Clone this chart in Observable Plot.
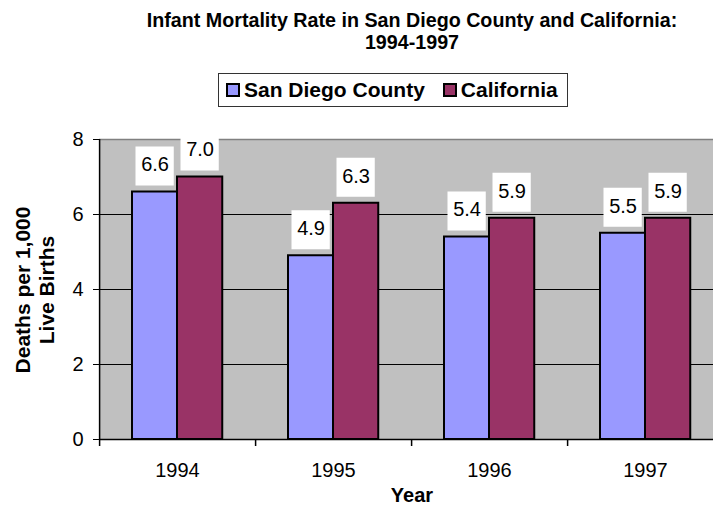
<!DOCTYPE html>
<html>
<head>
<meta charset="utf-8">
<script src="https://cdn.jsdelivr.net/npm/d3@7"></script>
<script src="https://cdn.jsdelivr.net/npm/@observablehq/plot@0.6"></script>
<style>
  html, body { margin: 0; padding: 0; background: #fff; }
  #wrap { position: relative; width: 713px; height: 508px; overflow: hidden; font-family: "Liberation Sans", Arial, sans-serif; }
  #chart { position: absolute; left: 0; top: 0; width: 724px; height: 508px; }
  #chart svg { max-width: none !important; width: 724px !important; height: 508px !important; }
  .title { position: absolute; left: 112px; width: 600px; top: 9px; text-align: center; font-weight: bold; font-size: 19.7px; line-height: 22px; color: #000; white-space: nowrap; }
  .legend { position: absolute; left: 218px; top: 73px; width: 350px; height: 34px; box-sizing: border-box; border: 1px solid #333; display: flex; align-items: center; font-weight: bold; font-size: 21px; white-space: nowrap; }
  .sw { display: inline-block; width: 14px; height: 14px; border: 2px solid #000; box-sizing: border-box; margin-right: 4px; }
  .ylab { position: absolute; left: 35px; top: 290px; width: 300px; text-align: center; font-weight: bold; font-size: 21px; line-height: 24px; transform: translate(-50%, -50%) rotate(-90deg); white-space: nowrap; }
  .xlab { position: absolute; left: 312px; width: 200px; top: 485px; line-height: 20px; text-align: center; font-weight: bold; font-size: 20px; }
</style>
</head>
<body>
<div id="wrap">
  <div id="chart"></div>
  <div class="title">Infant Mortality Rate in San Diego County and California:<br>1994-1997</div>
  <div class="legend" id="legend"></div>
  <div class="ylab">Deaths per 1,000<br>Live Births</div>
  <div class="xlab">Year</div>
</div>
<script>
const years = ["1994", "1995", "1996", "1997"];
const sanDiego = [6.6, 4.9, 5.4, 5.5];
const california = [7.0, 6.3, 5.9, 5.9];
const seriesNames = ["San Diego County", "California"];
const seriesColors = ["#9999ff", "#993366"];
const yTicks = [0, 2, 4, 6, 8];

const sd = years.map((year, i) => ({year, value: sanDiego[i]}));
const ca = years.map((year, i) => ({year, value: california[i]}));

const plot = Plot.plot({
  width: 724,
  height: 508,
  marginLeft: 99,
  marginRight: 1,
  marginTop: 139,
  marginBottom: 69,
  style: {fontFamily: "Liberation Sans, Arial, sans-serif", fontSize: "20px", color: "#000", background: "transparent"},
  x: {domain: years, padding: 0},
  y: {domain: [0, 8]},
  marks: [
    Plot.frame({fill: "#c0c0c0"}),
    Plot.ruleY([2, 4, 6], {stroke: "#000", strokeWidth: 1}),
    Plot.ruleY([8], {stroke: "#808080", strokeWidth: 1.5}),
    Plot.barY(sd, {x: "year", y: "value", fill: seriesColors[0], stroke: "#000", strokeWidth: 2, insetLeft: 33, insetRight: 77.75}),
    Plot.barY(ca, {x: "year", y: "value", fill: seriesColors[1], stroke: "#000", strokeWidth: 2, insetLeft: 78, insetRight: 32.75}),
    Plot.barY(sd, {x: "year", y1: "value", y2: "value", fill: "#fff", insetTop: -45, insetBottom: 6, insetLeft: 36.5, insetRight: 81.25}),
    Plot.barY(ca, {x: "year", y1: "value", y2: "value", fill: "#fff", insetTop: -45, insetBottom: 6, insetLeft: 81.5, insetRight: 36.25}),
    Plot.text(sd, {x: "year", y: "value", text: d => d.value.toFixed(1), dx: -22.4, dy: -27, fontSize: 20, fill: "#000", lineAnchor: "middle"}),
    Plot.text(ca, {x: "year", y: "value", text: d => d.value.toFixed(1), dx: 22.6, dy: -27, fontSize: 20, fill: "#000", lineAnchor: "middle"}),
    Plot.ruleX([years[0]], {dx: -77.9, stroke: "#000", strokeWidth: 1.5}),
    Plot.ruleX(years, {dx: -77.9, y1: 0, y2: 0, insetBottom: -7, stroke: "#000", strokeWidth: 1.5}),
    Plot.ruleY([0], {stroke: "#000", strokeWidth: 1.5}),
    Plot.axisY({ticks: yTicks, tickSize: 6, tickPadding: 10, fontSize: 20, label: null, tickFormat: d => String(d)}),
    Plot.axisX({tickSize: 0, tickPadding: 23, fontSize: 20, label: null})
  ]
});
document.getElementById("chart").appendChild(plot);

const legend = document.getElementById("legend");
seriesNames.forEach((name, i) => {
  const item = document.createElement("span");
  item.style.display = "inline-flex";
  item.style.alignItems = "center";
  item.style.marginLeft = i === 0 ? "7px" : "18px";
  const sw = document.createElement("span");
  sw.className = "sw";
  sw.style.background = seriesColors[i];
  item.appendChild(sw);
  item.appendChild(document.createTextNode(name));
  legend.appendChild(item);
});
</script>
</body>
</html>
